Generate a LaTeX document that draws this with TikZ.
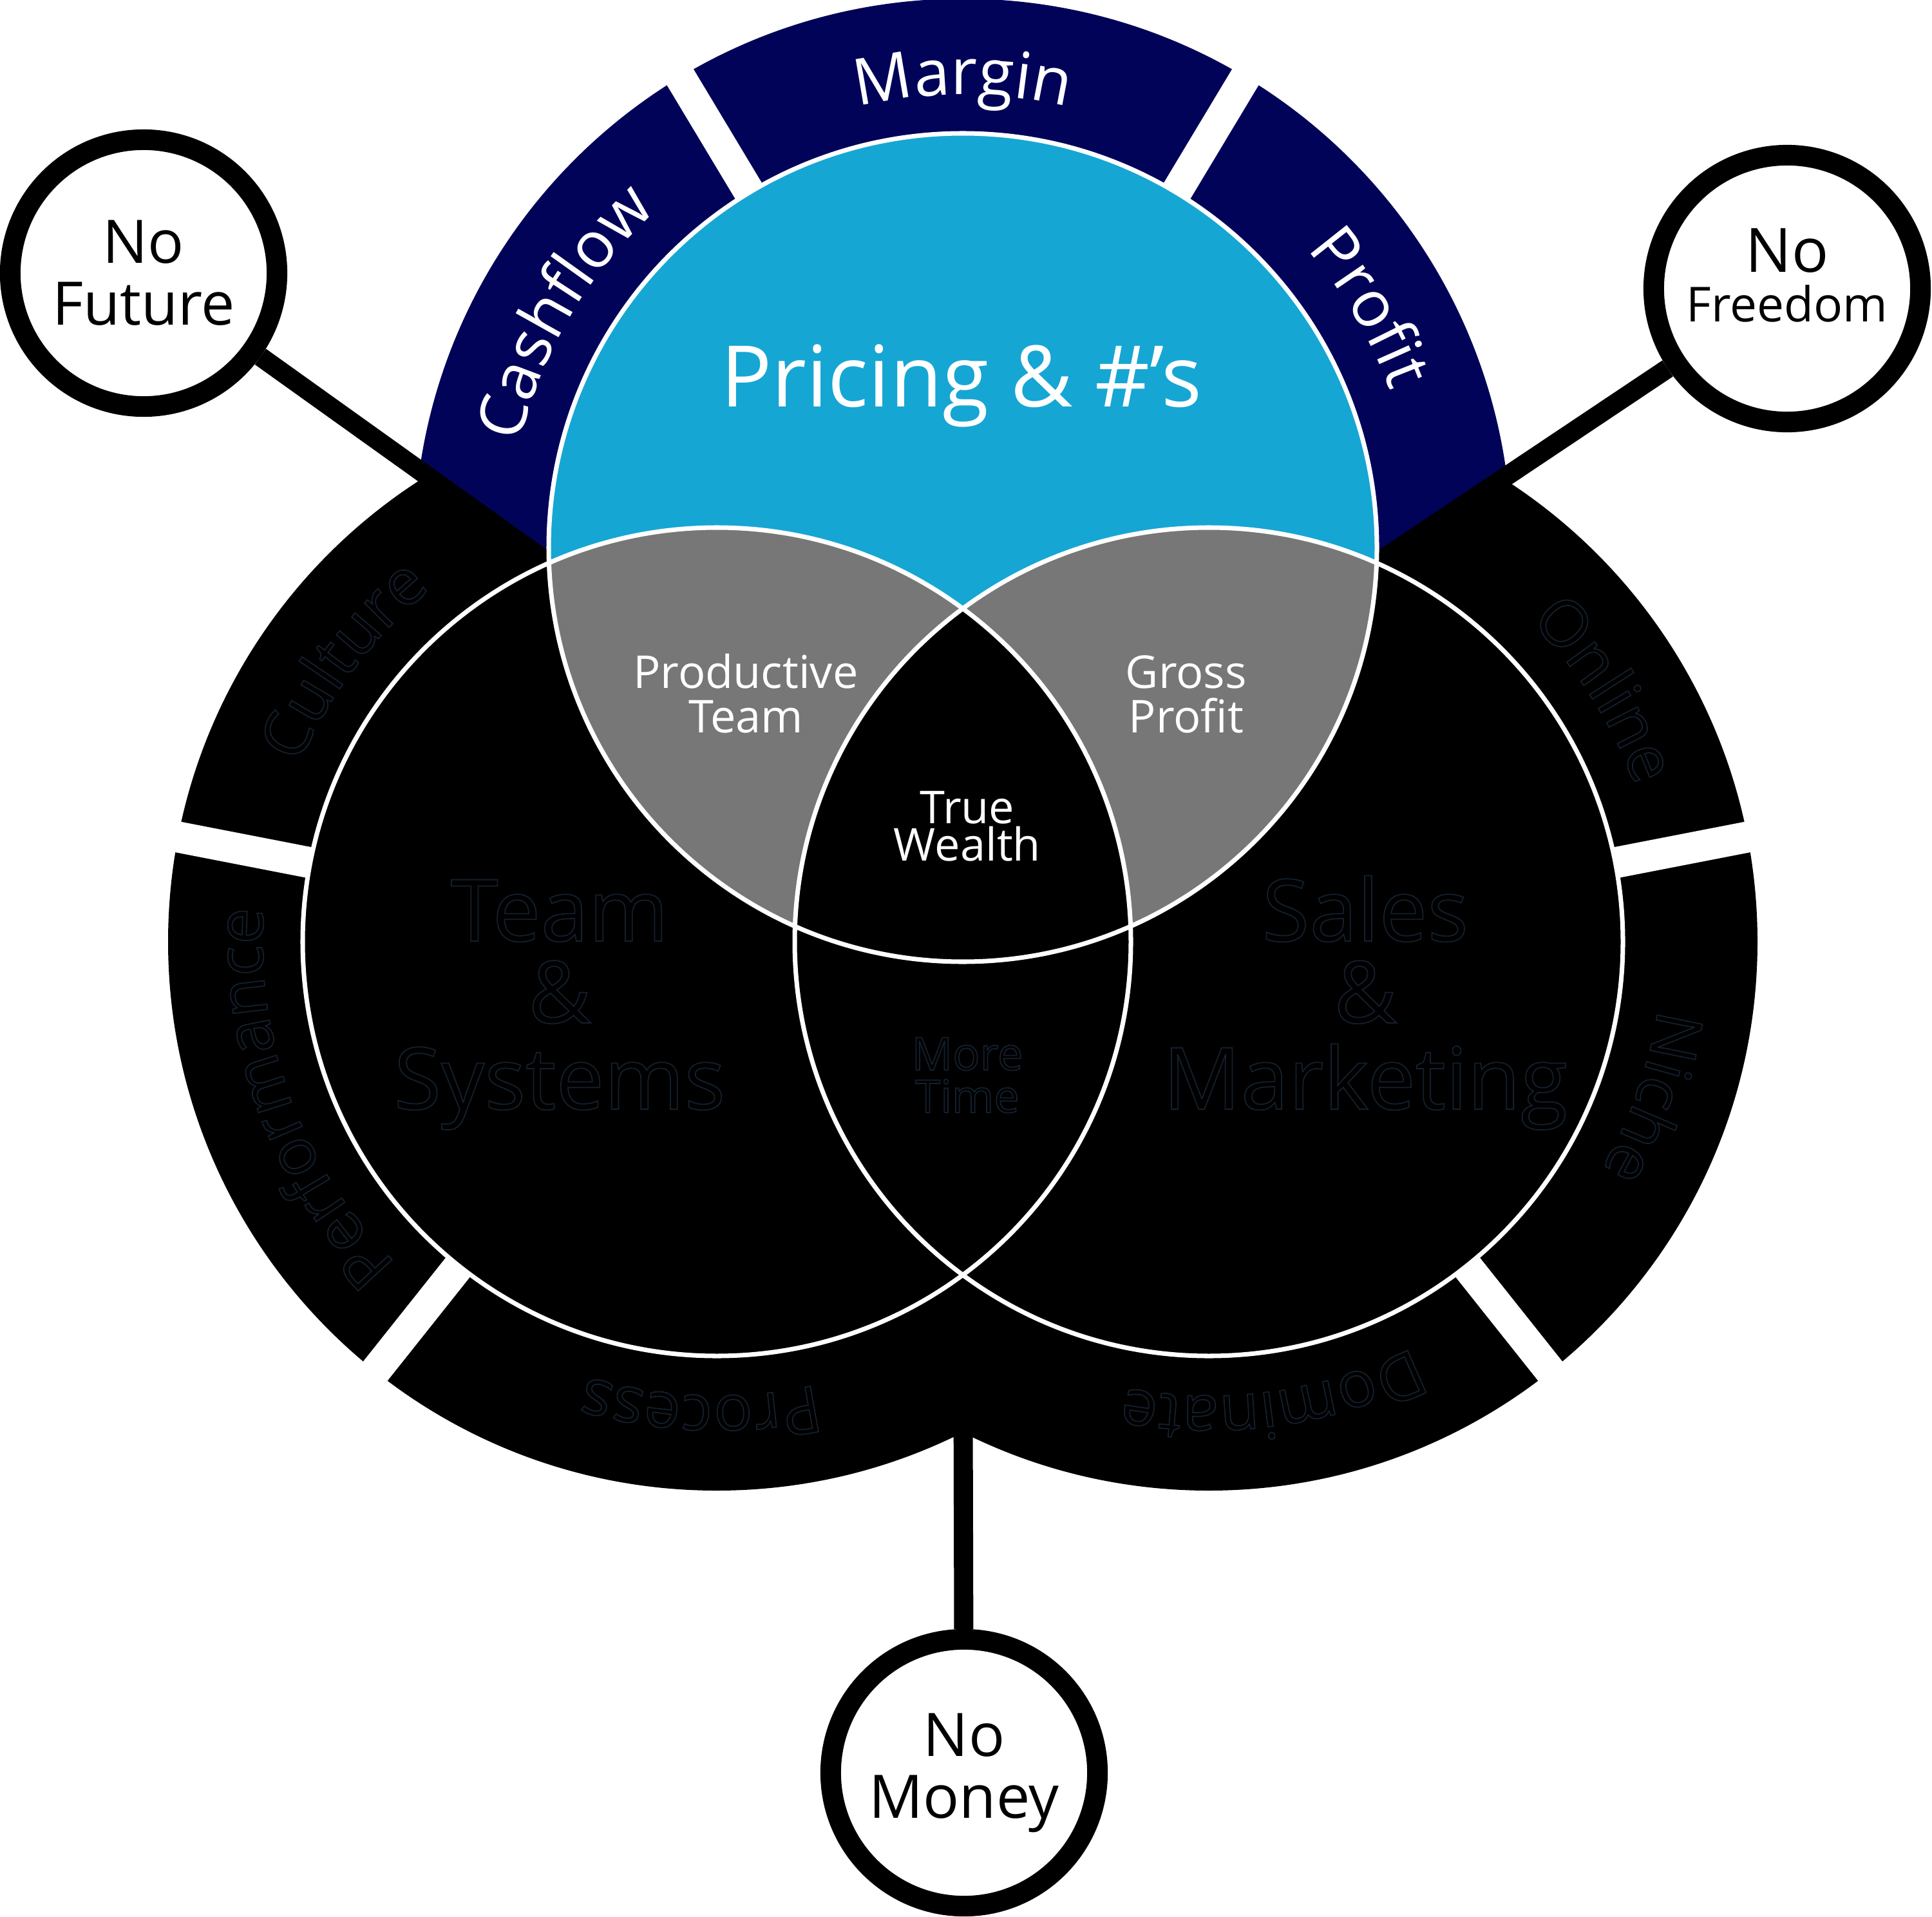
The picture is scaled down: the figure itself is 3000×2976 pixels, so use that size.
\documentclass[tikz,border=0pt]{standalone}
\usepackage{fontspec}
\setmainfont{Open Sans}
\usetikzlibrary{calc,decorations.text}
\definecolor{navy}{RGB}{1,3,88}
\definecolor{skyb}{RGB}{22,166,211}
\definecolor{lens}{RGB}{119,119,119}
\definecolor{ghostline}{RGB}{20,32,46}
\newcommand\outlineon{\special{pdf:literal direct 1 Tr 0.5 w}}
\begin{document}
\begin{tikzpicture}[x=0.01cm,y=0.01cm,
  bubble/.style={circle, draw=black, line width=9.1pt, fill=white, minimum size=4.14cm, inner sep=0pt, align=center},
  link/.style={line width=8.5pt, draw=black},
  gapw/.style={line width=13.7pt, draw=white},
  rim/.style={draw=white, line width=2pt},
  lbl/.style={anchor=base, inner sep=0pt, text=white},
  ghost/.style={anchor=base, inner sep=0pt, text=ghostline},
]
\useasboundingbox (0,0) rectangle (3000,-2976);
\coordinate (T) at (1495,-850);
\coordinate (L) at (1113,-1462);
\coordinate (R) at (1877,-1462);
\coordinate (ITL) at (852.4,-874.1);
\coordinate (ITR) at (2137.6,-874.1);
\coordinate (IB) at (1495,-1979.2);

% outer bubbles
\node[bubble, font=\fontsize{26.5}{27.3}\selectfont] (nf) at (223,-424) {No\\Future};
\node[bubble, font=\fontsize{27}{22}\selectfont] (nfr) at (2775,-448) {No\\{\fontsize{21.3}{22}\selectfont Freedom}\rule[-12pt]{0pt}{12pt}};
\node[bubble, font=\fontsize{26.5}{27.3}\selectfont] (nm) at (1497,-2752) {No\\Money};

% side rings
\fill[black] (L) circle[radius=852];
\fill[black] (R) circle[radius=852];
% top ring
\begin{scope}
  \clip (-406.4,26.1) -- (ITL) -- (ITR) -- (3412.4,-21.9) -- (3412.4,600) -- (-406.4,600) -- cycle;
  \fill[navy] (T) circle[radius=852];
\end{scope}
% gaps between segments
\foreach \a in {59,121} \draw[gapw] ($(T)+(\a:630)$) -- ($(T)+(\a:890)$);
\foreach \a in {169,231.5} \draw[gapw] ($(L)+(\a:630)$) -- ($(L)+(\a:890)$);
\foreach \a in {11,308.5} \draw[gapw] ($(R)+(\a:630)$) -- ($(R)+(\a:890)$);

% connectors
\draw[link] (nf) -- (ITL);
\draw[link] (nfr) -- (ITR);
\draw[link] (nm) -- (IB);

% venn circles
\fill[black] (L) circle[radius=643];
\fill[black] (R) circle[radius=643];
\fill[skyb] (T) circle[radius=643];
\begin{scope}
  \clip (T) circle[radius=643];
  \fill[lens] (L) circle[radius=643];
  \fill[lens] (R) circle[radius=643];
  \clip (L) circle[radius=643];
  \fill[black] (R) circle[radius=643];
\end{scope}
\draw[rim] (T) circle[radius=643];
\draw[rim] (L) circle[radius=643];
\draw[rim] (R) circle[radius=643];

% white texts
\node[lbl, font=\fontsize{37.5}{40}\selectfont] (pr) at (1493,-631.5) {Pricing \& \#’s};
\node[lbl, font=\fontsize{20}{20}\selectfont] (pt1) at (1158,-1068) {Productive};
\node[lbl, font=\fontsize{20}{20}\selectfont] (pt2) at (1158,-1137.5) {Team};
\node[lbl, font=\fontsize{20}{20}\selectfont] (gp1) at (1842,-1068) {Gross};
\node[lbl, font=\fontsize{20}{20}\selectfont] (gp2) at (1842,-1137.5) {Profit};
\node[lbl, font=\fontsize{20}{20}\selectfont] (tw1) at (1502,-1278) {True};
\node[lbl, font=\fontsize{20}{20}\selectfont] (tw2) at (1502,-1336) {Wealth};

\path[decorate,decoration={text along path,text align=center,text={|\fontsize{28.5}{30}\selectfont\color{white}|Margin}}] ($(T)+(130:703)$) arc[start angle=130,end angle=50,radius=703];
\path[decorate,decoration={text along path,text align=center,text={|\fontsize{28.5}{30}\selectfont\color{white}|Cashflow}}] ($(T)+(189.5:707)$) arc[start angle=189.5,end angle=109.5,radius=707];
\path[decorate,decoration={text along path,text align=center,text={|\fontsize{28.5}{30}\selectfont\color{white}|Profit}}] ($(T)+(70.5:707)$) arc[start angle=70.5,end angle=-9.5,radius=707];

% dark outlined texts
\node[ghost, font=\fontsize{20}{20}\selectfont\outlineon] (mt1) at (1502,-1661) {More};
\node[ghost, font=\fontsize{20}{20}\selectfont\outlineon] (mt2) at (1502,-1727) {Time};
\node[ghost, font=\fontsize{38}{38}\selectfont\outlineon] (ts1) at (869,-1461) {Team};
\node[ghost, font=\fontsize{38}{38}\selectfont\outlineon] (ts2) at (869,-1588) {\&};
\node[ghost, font=\fontsize{38}{38}\selectfont\outlineon] (ts3) at (869,-1722) {Systems};
\node[ghost, font=\fontsize{38}{38}\selectfont\outlineon] (sm1) at (2120,-1461) {Sales};
\node[ghost, font=\fontsize{38}{38}\selectfont\outlineon] (sm2) at (2120,-1588) {\&};
\node[ghost, font=\fontsize{38}{38}\selectfont\outlineon] (sm3) at (2120,-1722) {Marketing};

\path[decorate,decoration={text along path,text align=center,text={|\fontsize{28.5}{30}\selectfont\color{ghostline}\outlineon|Culture}}] ($(L)+(183:705)$) arc[start angle=183,end angle=103,radius=705];
\path[decorate,decoration={text along path,text align=center,text={|\fontsize{28.5}{30}\selectfont\color{ghostline}\outlineon|Performance}}] ($(L)+(245:705)$) arc[start angle=245,end angle=156,radius=705];
\path[decorate,decoration={text along path,text align=center,text={|\fontsize{28.5}{30}\selectfont\color{ghostline}\outlineon|Process}}] ($(L)+(308:705)$) arc[start angle=308,end angle=228,radius=705];
\path[decorate,decoration={text along path,text align=center,text={|\fontsize{28.5}{30}\selectfont\color{ghostline}\outlineon|Online}}] ($(R)+(72.5:705)$) arc[start angle=72.5,end angle=-7.5,radius=705];
\path[decorate,decoration={text along path,text align=center,text={|\fontsize{28.5}{30}\selectfont\color{ghostline}\outlineon|Niche}}] ($(R)+(20.7:705)$) arc[start angle=20.7,end angle=-59.3,radius=705];
\path[decorate,decoration={text along path,text align=center,text={|\fontsize{28.5}{30}\selectfont\color{ghostline}\outlineon|Dominate}}] ($(R)+(318:705)$) arc[start angle=318,end angle=238,radius=705];
\end{tikzpicture}
\end{document}
